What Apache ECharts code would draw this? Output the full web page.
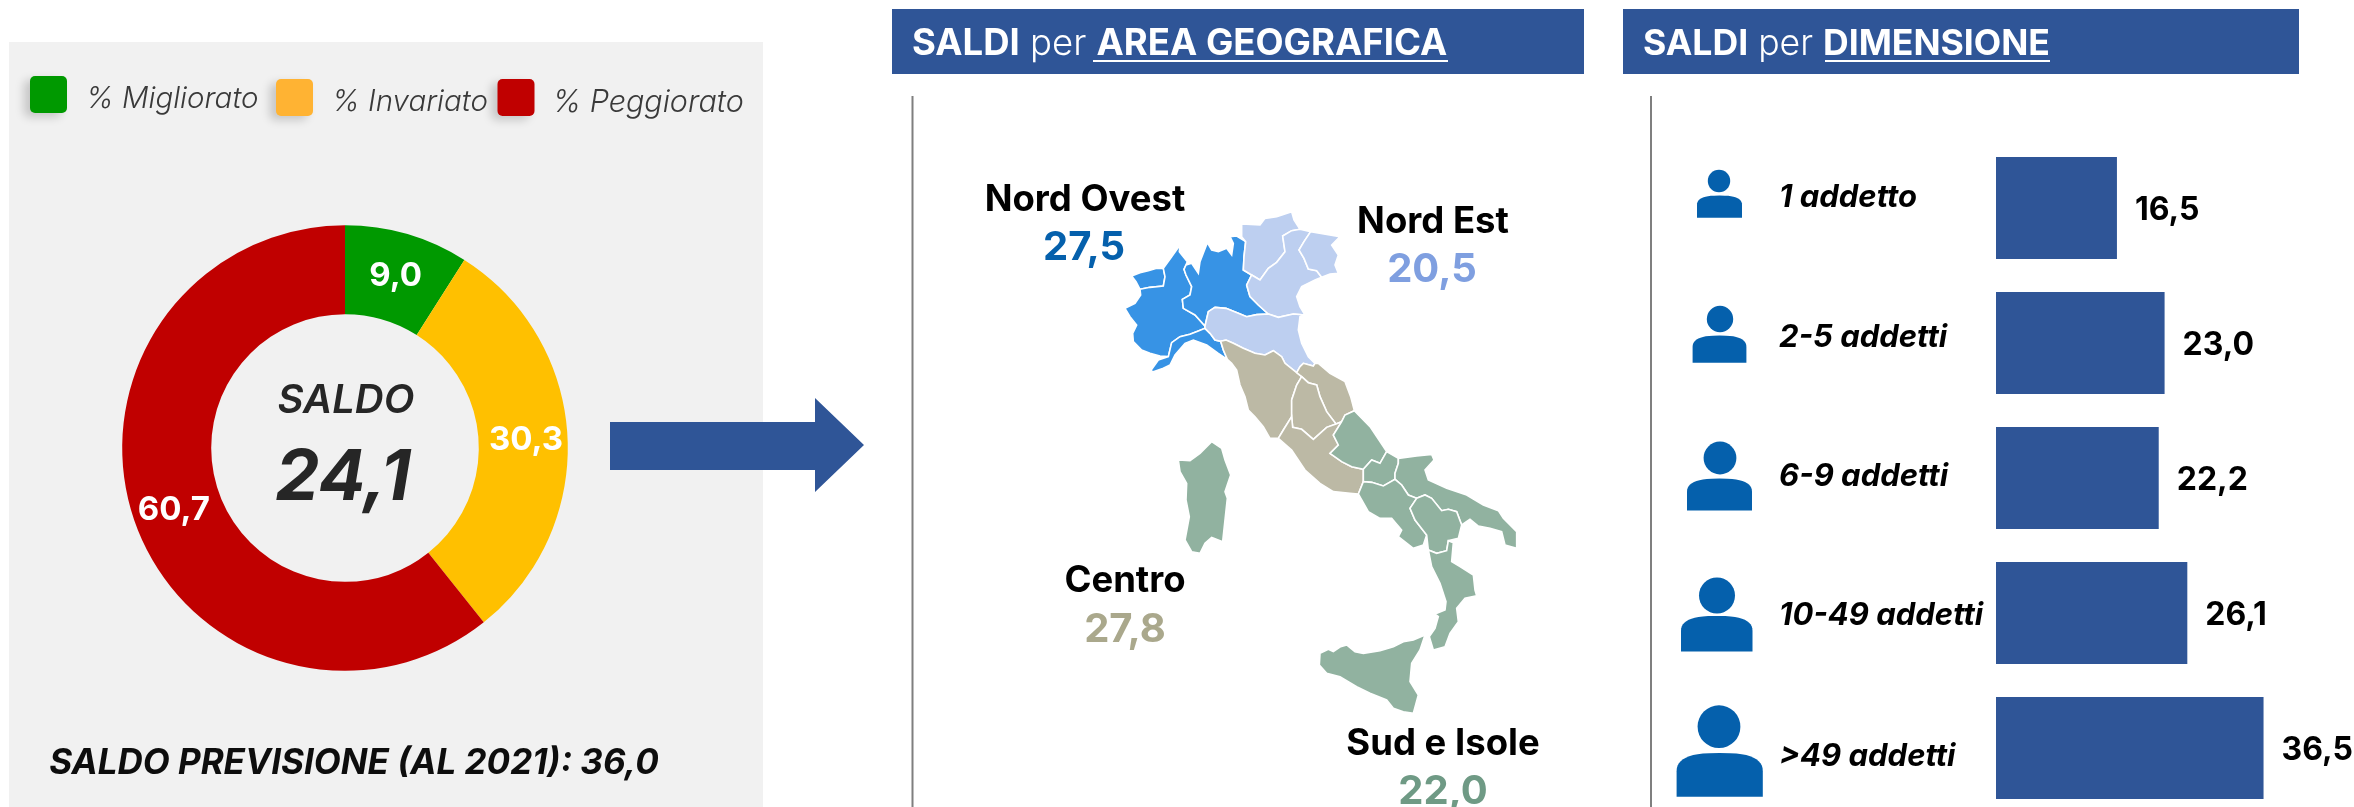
<!DOCTYPE html>
<html><head><meta charset="utf-8">
<style>html,body{margin:0;padding:0;background:#fff}#c{width:2354px;height:807px}</style>
<script src="https://cdn.jsdelivr.net/npm/echarts@6/dist/echarts.min.js"></script>
</head><body><div id="c"></div>
<script>
const donutCategories = ['% Migliorato', '% Invariato', '% Peggiorato'];
const donutValues = [9.0, 30.3, 60.7];
const saldoValue = 24.1;
const saldoPrevisione = 36.0;
const areaNames = ['Nord Ovest', 'Nord Est', 'Centro', 'Sud e Isole'];
const areaValues = [27.5, 20.5, 27.8, 22.0];
const sizeCategories = ['1 addetto', '2-5 addetti', '6-9 addetti', '10-49 addetti', '>49 addetti'];
const sizeValues = [16.5, 23.0, 22.2, 26.1, 36.5];

// Map outline, in the map's own units
const regionArea = {
  "Valle d'Aosta":0, Piemonte:0, Liguria:0, Lombardia:0,
  'Trentino-Alto Adige':1, Veneto:1, 'Friuli-Venezia Giulia':1, 'Emilia-Romagna':1,
  Toscana:2, Umbria:2, Marche:2, Lazio:2,
  Abruzzo:3, Molise:3, Campania:3, Puglia:3, Basilicata:3, Calabria:3, Sicilia:3, Sardegna:3
};
const regionShapes = {
  "Valle d'Aosta":[[[95,228],[120,218],[145,212],[170,205],[190,205],[195,230],[190,258],[150,262],[120,268],[108,245]]],
  Piemonte:[[[240,135],[238,155],[262,185],[258,195],[252,208],[258,225],[275,260],[270,285],[247,298],[250,325],[285,345],[315,378],[315,385],[295,393],[270,403],[240,410],[215,428],[205,470],[180,468],[150,460],[125,450],[100,425],[98,400],[110,375],[90,350],[75,325],[105,310],[122,285],[120,268],[150,262],[190,258],[195,230],[190,205],[215,170]]],
  Lombardia:[[[390,110],[410,108],[437,125],[432,170],[430,210],[455,225],[440,255],[450,290],[475,315],[505,342],[470,344],[440,350],[415,340],[378,325],[345,322],[325,335],[315,378],[285,345],[250,325],[247,298],[270,285],[275,260],[258,225],[252,208],[258,195],[275,190],[295,220],[300,185],[322,128],[335,150],[355,155],[380,145],[395,165],[400,130]]],
  Liguria:[[[152,512],[175,480],[205,470],[215,428],[240,410],[270,403],[295,393],[315,385],[330,400],[345,420],[362,424],[370,450],[382,478],[355,460],[320,435],[280,420],[255,430],[225,465],[210,495],[190,505],[160,515]]],
  'Trentino-Alto Adige':[[[425,72],[480,75],[495,55],[530,50],[575,35],[582,60],[600,88],[575,92],[548,108],[555,155],[530,187],[505,205],[480,240],[455,225],[430,210],[432,170],[437,125],[425,110]]],
  Veneto:[[[600,88],[632,95],[612,125],[597,150],[612,175],[625,207],[650,212],[665,232],[645,240],[605,260],[590,290],[600,320],[615,345],[580,342],[535,352],[505,342],[475,315],[450,290],[440,255],[455,225],[480,240],[505,205],[530,187],[555,155],[548,108],[575,92]]],
  'Friuli-Venezia Giulia':[[[632,95],[720,110],[695,135],[715,165],[705,195],[715,220],[690,222],[665,232],[650,212],[625,207],[612,175],[597,150],[612,125]],[[728,216],[745,235],[735,228]]],
  'Emilia-Romagna':[[[315,378],[325,335],[345,322],[378,325],[415,340],[440,350],[470,344],[505,342],[535,352],[580,342],[615,345],[600,350],[595,390],[605,430],[625,470],[645,490],[640,498],[610,490],[600,500],[590,518],[555,490],[545,470],[520,452],[495,465],[465,460],[430,445],[400,430],[378,420],[362,424],[345,420],[330,400],[315,385]]],
  Toscana:[[[362,424],[378,420],[400,430],[430,445],[465,460],[495,465],[520,452],[545,470],[555,490],[590,518],[605,530],[590,555],[575,600],[575,650],[550,690],[535,715],[510,715],[490,680],[465,650],[445,630],[435,590],[420,555],[410,510],[395,490],[382,478],[370,450]]],
  Marche:[[[600,500],[610,490],[640,498],[645,490],[655,490],[690,520],[735,545],[752,590],[763,632],[735,645],[725,665],[708,672],[680,635],[660,590],[650,555],[625,548],[605,530],[590,518]]],
  Umbria:[[[605,530],[625,548],[650,555],[660,590],[680,635],[708,672],[680,682],[640,718],[605,688],[578,682],[575,650],[575,600],[590,555]]],
  Lazio:[[[535,715],[550,690],[575,650],[578,682],[605,688],[640,718],[680,682],[708,672],[725,665],[700,705],[715,735],[690,760],[725,785],[755,800],[790,808],[790,845],[775,882],[750,880],[700,875],[660,850],[615,810],[575,750]]],
  Abruzzo:[[[763,632],[810,680],[860,755],[840,790],[815,780],[790,808],[755,800],[725,785],[690,760],[715,735],[700,705],[725,665],[735,645]]],
  Molise:[[[860,755],[895,775],[895,790],[885,820],[885,838],[850,858],[815,847],[790,845],[790,808],[815,780],[840,790]]],
  Puglia:[[[895,775],[950,768],[995,763],[1002,780],[975,810],[985,840],[1040,865],[1100,885],[1150,915],[1195,932],[1210,955],[1250,995],[1250,1045],[1215,1035],[1205,995],[1170,985],[1135,978],[1110,958],[1085,975],[1070,935],[1045,928],[1025,932],[995,895],[975,885],[950,895],[925,885],[905,855],[885,838],[885,820],[895,790]]],
  Campania:[[[775,882],[790,845],[815,847],[850,858],[885,838],[905,855],[925,885],[950,895],[930,925],[945,960],[980,1005],[970,1035],[940,1045],[895,1010],[905,990],[875,955],[840,955],[805,935]]],
  Basilicata:[[[950,895],[975,885],[995,895],[1025,932],[1045,928],[1070,935],[1085,975],[1075,1015],[1045,1022],[1040,1052],[1010,1060],[985,1050],[980,1005],[945,960],[930,925]]],
  Calabria:[[[985,1050],[1010,1060],[1040,1052],[1045,1022],[1060,1028],[1055,1085],[1080,1100],[1120,1125],[1125,1170],[1130,1187],[1095,1195],[1070,1225],[1075,1265],[1050,1300],[1035,1340],[1000,1350],[988,1310],[1005,1285],[1015,1250],[1005,1242],[1035,1230],[1038,1205],[1020,1150],[995,1100]]],
  Sicilia:[[[660,1360],[685,1348],[700,1355],[722,1340],[740,1335],[765,1355],[790,1360],[840,1352],[880,1340],[910,1325],[940,1320],[975,1305],[960,1350],[935,1390],[930,1445],[955,1485],[940,1540],[910,1535],[880,1525],[860,1500],[810,1480],[770,1460],[720,1430],[680,1420],[658,1395]]],
  Sardegna:[[[235,780],[270,782],[300,760],[335,725],[365,745],[375,780],[392,825],[375,875],[382,895],[368,1025],[335,1012],[315,1030],[300,1060],[275,1055],[255,1020],[268,950],[258,900],[260,850],[240,815]]]
};

const fmt = v => v.toFixed(1).replace('.', ',');
const FONT = 'Inter';
const blue = '#2f5597';
const donutColors = ['#009900', '#ffc000', '#c00000'];
const legendColors = ['#009900', '#ffb333', '#c00000'];
const areaColors = ['#3793e5', '#bdcff0', '#bcb9a5', '#91b2a0'];
const areaValueColors = ['#0560ac', '#7f9fe0', '#aaa88c', '#6f9a85'];
const iconBlue = '#0560ac';

const geoJson = {
  type: 'FeatureCollection',
  features: Object.keys(regionShapes).map(name => ({
    type: 'Feature',
    properties: { name },
    geometry: { type: 'MultiPolygon', coordinates: regionShapes[name].map(r => [r.map(p => [p[0], -p[1]])]) }
  }))
};
echarts.registerMap('italia', geoJson);

function txt(x, y, text, size, weight, fill, o) {
  return { type: 'text', z: 5, style: Object.assign({
    x, y: y + 2, text, fontFamily: FONT, fontSize: size, fontWeight: weight, fill,
    align: 'center', verticalAlign: 'middle'
  }, o || {}) };
}
function person(cx, headY, r, x0, x1, y0, y1) {
  const w = x1 - x0, h = y1 - y0, xc = (x0 + x1) / 2;
  const pts = [[x0, y1], [x0, y0 + 0.42 * h]];
  // dome-shaped shoulders
  for (let k = 0; k <= 24; k++) {
    const t = Math.PI * (1 - k / 24);
    const c = Math.cos(t), s = Math.sin(t);
    const px = xc + (w / 2) * Math.sign(c) * Math.pow(Math.abs(c), 0.7);
    const py = y0 + 0.42 * h - 0.42 * h * Math.pow(s, 0.85);
    pts.push([px, py]);
  }
  pts.push([x1, y1]);
  return [
    { type: 'circle', z: 5, shape: { cx, cy: headY, r }, style: { fill: iconBlue } },
    { type: 'polygon', z: 5, shape: { points: pts }, style: { fill: iconBlue } }
  ];
}
const swatch = (x, y, c) => ({ type: 'rect', z: 4, shape: { x, y, width: 37, height: 37, r: 5 },
  style: { fill: c, shadowBlur: 10, shadowColor: 'rgba(0,0,0,0.18)', shadowOffsetX: -6, shadowOffsetY: 4 } });
const legendText = { align: 'left', fontStyle: 'italic', fill: '#3a3a3a' };

const headerRich = (size) => ({
  a: { fontFamily: FONT, fontSize: size, fontWeight: 700, fill: '#fff', color: '#fff' },
  b: { fontFamily: FONT, fontSize: size, fontWeight: 300, fill: '#fff', color: '#fff' }
});

const graphics = [
  { type: 'rect', z: 0, shape: { x: 9, y: 42, width: 754, height: 765 }, style: { fill: '#f1f1f1' } },
  swatch(30, 76, legendColors[0]), swatch(276, 79, legendColors[1]), swatch(497.5, 79, legendColors[2]),
  txt(86, 97, donutCategories[0], 29.5, 300, '#3a3a3a', legendText),
  txt(332, 100.5, donutCategories[1], 29.5, 300, '#3a3a3a', legendText),
  txt(552.5, 100.5, donutCategories[2], 30.5, 300, '#3a3a3a', legendText),
  txt(346, 399, 'SALDO', 40, 600, '#262626', { fontStyle: 'italic' }),
  txt(343, 477, fmt(saldoValue), 70, 700, '#262626', { fontStyle: 'italic' }),
  txt(354, 761, 'SALDO PREVISIONE (AL 2021): ' + fmt(saldoPrevisione), 35, 700, '#0d0d0d', { fontStyle: 'italic' }),
  { type: 'polygon', z: 3, shape: { points: [[610, 422], [815, 422], [815, 398], [864, 445], [815, 492], [815, 470], [610, 470]] }, style: { fill: blue } },
  { type: 'rect', z: 3, shape: { x: 892, y: 9, width: 692, height: 65 }, style: { fill: blue } },
  { type: 'rect', z: 3, shape: { x: 1623, y: 9, width: 676, height: 65 }, style: { fill: blue } },
  { type: 'text', z: 5, style: { x: 912, y: 44, text: '{a|SALDI} {b|per} {a|AREA GEOGRAFICA}', rich: headerRich(36.5), fontFamily: FONT, fontSize: 36.5, align: 'left', verticalAlign: 'middle' } },
  { type: 'text', z: 5, style: { x: 1643, y: 44, text: '{a|SALDI} {b|per} {a|DIMENSIONE}', rich: headerRich(35.6), fontFamily: FONT, fontSize: 35.6, align: 'left', verticalAlign: 'middle' } },
  { type: 'rect', z: 5, shape: { x: 1093, y: 60, width: 355, height: 2 }, style: { fill: '#fff' } },
  { type: 'rect', z: 5, shape: { x: 1825, y: 60, width: 225, height: 2 }, style: { fill: '#fff' } },
  { type: 'rect', z: 3, shape: { x: 911.5, y: 96, width: 2, height: 711 }, style: { fill: '#7f7f7f' } },
  { type: 'rect', z: 3, shape: { x: 1650, y: 96, width: 2, height: 711 }, style: { fill: '#7f7f7f' } },
  txt(1085, 198, areaNames[0], 36.5, 700, '#000'),
  txt(1084, 246, fmt(areaValues[0]), 40, 700, areaValueColors[0]),
  txt(1433, 220, areaNames[1], 36.5, 700, '#000'),
  txt(1432, 268, fmt(areaValues[1]), 40, 700, areaValueColors[1]),
  txt(1125, 579, areaNames[2], 36.5, 700, '#000'),
  txt(1125, 628, fmt(areaValues[2]), 40, 700, areaValueColors[2]),
  txt(1443, 742, areaNames[3], 36.5, 700, '#000'),
  txt(1443, 790, fmt(areaValues[3]), 40, 700, areaValueColors[3]),
  ...person(1719, 181, 11.2, 1697, 1742, 195.6, 217.7),
  ...person(1720, 319, 13.2, 1692.6, 1746.4, 335.6, 362.8),
  ...person(1720, 458, 16.4, 1687, 1752, 478.6, 510.5),
  ...person(1717, 595.5, 18, 1681, 1752.5, 616, 651.6),
  ...person(1719, 726.7, 21.4, 1676.6, 1762.8, 753, 796.7)
];

const labelShift = [-10, -5, -1, 3, 9];
const catRich = {};
labelShift.forEach((s, i) => {
  catRich['c' + i] = { fontFamily: FONT, fontSize: 31, fontWeight: 700, fontStyle: 'italic', color: '#000',
    padding: s < 0 ? [0, 0, -2 * s, 0] : [2 * s, 0, 0, 0] };
});

const chart = echarts.init(document.getElementById('c'), null, { renderer: 'canvas' });
chart.setOption({
  animation: false,
  backgroundColor: '#fff',
  graphic: { elements: graphics },
  grid: { left: 1996, top: 140.5, width: 293.2, height: 675, containLabel: false, outerBoundsMode: 'none' },
  xAxis: { type: 'value', min: 0, max: 40, show: false },
  yAxis: {
    type: 'category', inverse: true, data: sizeCategories,
    axisLine: { show: false }, axisTick: { show: false }, splitLine: { show: false },
    axisLabel: {
      align: 'left', margin: 217, interval: 0, hideOverlap: false,
      formatter: (v, i) => `{c${i}|${v}}`, rich: catRich
    }
  },
  series: [
    {
      type: 'pie', center: [345, 448], radius: [133.8, 222.8], startAngle: 90, clockwise: true,
      silent: true, avoidLabelOverlap: false,
      data: donutCategories.map((name, i) => ({ name, value: donutValues[i], itemStyle: { color: donutColors[i] } })),
      label: { show: true, position: 'inside', offset: [0, 2], formatter: p => fmt(p.value), color: '#fff', fontFamily: FONT, fontSize: 33, fontWeight: 700 },
      labelLine: { show: false }, emphasis: { disabled: true }
    },
    {
      type: 'map', map: 'italia', silent: true, roam: false, aspectScale: 1,
      boundingCoords: [[0, 0], [1350, -1590]],
      left: 1100, top: 200, width: 450, height: 530,
      selectedMode: false,
      label: { show: false }, emphasis: { disabled: true },
      itemStyle: { borderColor: '#fff', borderWidth: 1.6 },
      data: Object.keys(regionShapes).map(name => ({
        name, value: areaValues[regionArea[name]],
        itemStyle: { areaColor: areaColors[regionArea[name]], color: areaColors[regionArea[name]] }
      }))
    },
    {
      type: 'bar', data: sizeValues, barWidth: 102, silent: true,
      itemStyle: { color: blue },
      label: { show: true, position: 'right', distance: 18, offset: [0, 2.5], formatter: p => fmt(p.value), color: '#000', fontFamily: FONT, fontSize: 32, fontWeight: 700 }
    }
  ]
});
</script></body></html>
